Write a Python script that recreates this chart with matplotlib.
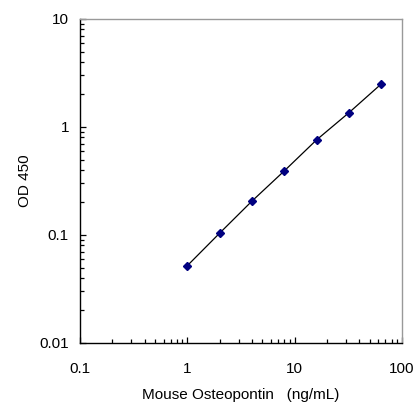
import matplotlib
matplotlib.use("Agg")
import matplotlib.pyplot as plt
from matplotlib.ticker import LogLocator, FixedLocator, NullFormatter

plt.rcParams['font.family'] = ['Liberation Sans', 'DejaVu Sans']

conc = [1, 2, 4, 8, 16, 32, 64]
od = [0.052, 0.104, 0.206, 0.392, 0.76, 1.355, 2.50]
xticks = [0.1, 1, 10, 100]
xticklabels = ["0.1", "1", "10", "100"]
yticks = [0.01, 0.1, 1, 10]
yticklabels = ["0.01", "0.1", "1", "10"]

fig = plt.figure(figsize=(4.17, 4.07), dpi=100)
ax = fig.add_axes([80/417, 1-343/407, 322/417, 324/407])

ax.plot(conc, od, color='black', lw=0.9, zorder=2)
ax.plot(conc, od, linestyle='none', marker='D', markersize=4.5,
        markerfacecolor='#000080', markeredgecolor='#000080', zorder=3)

ax.set_xscale('log')
ax.set_yscale('log')
ax.set_xlim(0.1, 100)
ax.set_ylim(0.01, 10)

ax.xaxis.set_major_locator(FixedLocator(xticks))
ax.set_xticklabels(xticklabels)
ax.yaxis.set_major_locator(FixedLocator(yticks))
ax.set_yticklabels(yticklabels)
ax.xaxis.set_minor_locator(LogLocator(base=10, subs=range(2, 10)))
ax.yaxis.set_minor_locator(LogLocator(base=10, subs=range(2, 10)))
ax.xaxis.set_minor_formatter(NullFormatter())
ax.yaxis.set_minor_formatter(NullFormatter())

ax.tick_params(which='both', direction='in', top=False, right=False,
               labelsize=11, width=0.9, color='black')
ax.tick_params(which='major', length=4)
ax.tick_params(which='minor', length=3)
ax.tick_params(axis='x', which='major', pad=14)
ax.tick_params(axis='y', which='major', pad=8)

for s in ['left', 'bottom']:
    ax.spines[s].set_color('black')
    ax.spines[s].set_linewidth(1.0)
for s in ['top', 'right']:
    ax.spines[s].set_color('#999999')
    ax.spines[s].set_linewidth(1.0)

ax.set_xlabel("Mouse Osteopontin   (ng/mL)", fontsize=11, labelpad=8)
ax.set_ylabel("OD 450", fontsize=11, labelpad=5)

fig.savefig("out.png", dpi=100)
